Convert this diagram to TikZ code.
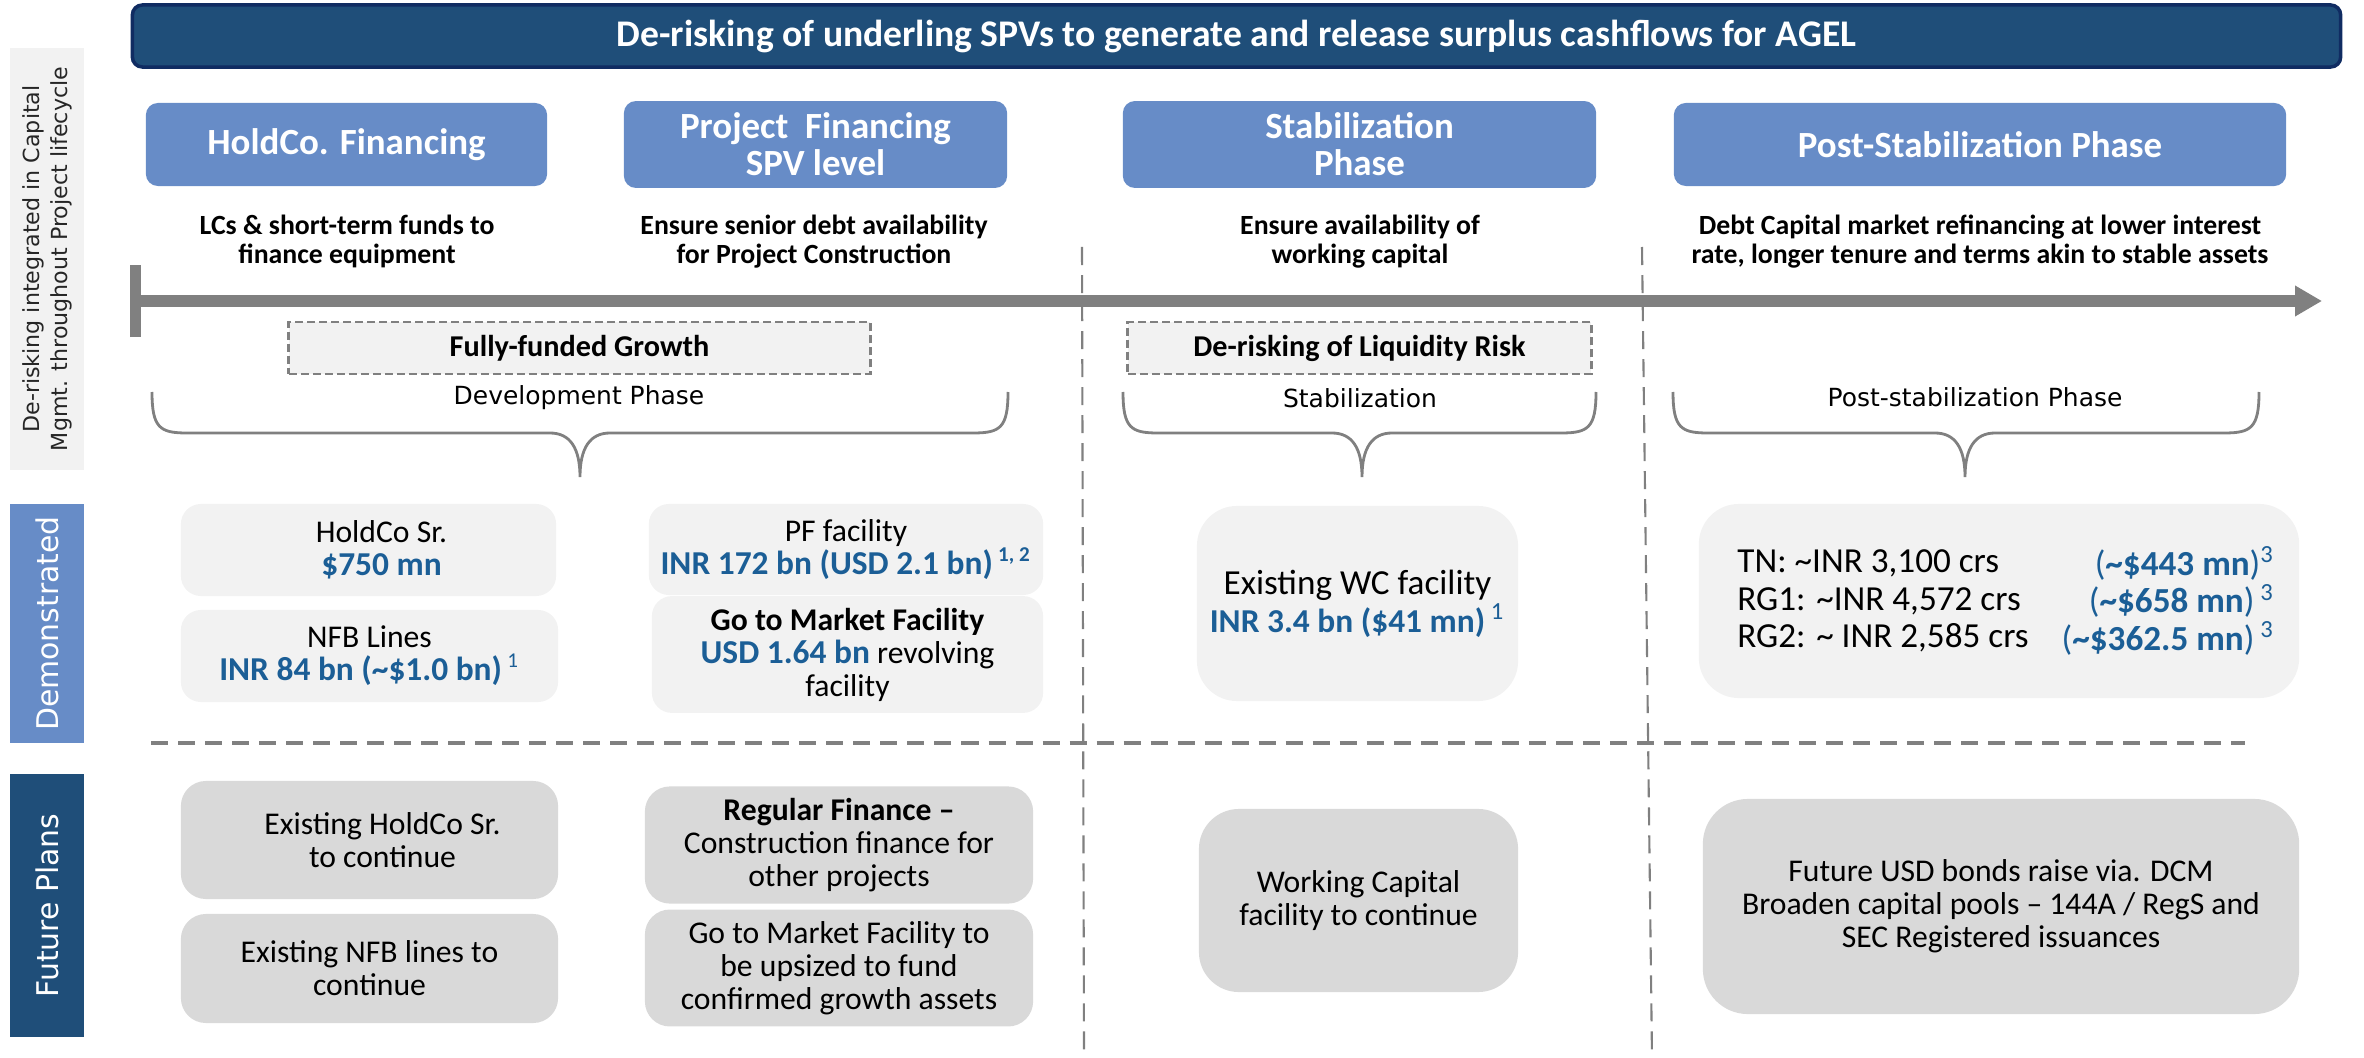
\documentclass[tikz,border=0pt]{standalone}
\usepackage{fontspec}
\setmainfont{Carlito}
\newfontfamily\dejavu{DejaVu Sans}
\usepackage{tikz}
\usetikzlibrary{arrows.meta}
\definecolor{navy}{RGB}{31,78,121}
\definecolor{navyline}{RGB}{16,44,98}
\definecolor{midblue}{RGB}{103,140,199}
\definecolor{numblue}{RGB}{27,94,150}
\definecolor{lite}{RGB}{242,242,242}
\definecolor{midgray}{RGB}{217,217,217}
\definecolor{rulegray}{RGB}{128,128,128}
\newcommand{\bluenum}[1]{{\fontsize{9.5}{9.4}\selectfont\bfseries\color{numblue}#1}}
\newcommand{\bluesup}[1]{\textcolor{numblue}{\textsuperscript{#1}}}

\begin{document}
\begin{tikzpicture}[x=0.01cm, y=-0.01cm, font=\fontsize{9}{9.4}\selectfont,
	titlebar/.style={fill=navy, draw=navyline, line width=1pt, rounded corners=0.1cm, text=white, font=\fontsize{10.7}{11}\selectfont\bfseries},
	phase/.style={fill=midblue, rounded corners=0.12cm, text=white, align=center, minimum height=0.83cm, font=\fontsize{10.5}{10.6}\selectfont\bfseries},
	desc/.style={align=center, font=\fontsize{7.9}{8.3}\selectfont\bfseries},
	sidelab/.style={rotate=90, align=center, minimum height=0.74cm, font=\dejavu\fontsize{8.5}{9}\selectfont},
	riskbox/.style={fill=lite, draw=rulegray, line width=0.8pt, dash pattern=on 0.08cm off 0.04cm, minimum height=0.52cm, font=\fontsize{8.6}{9}\selectfont\bfseries},
	phaselab/.style={font=\dejavu\fontsize{7.1}{8}\selectfont},
	brace/.style={draw=rulegray, line width=0.8pt},
	litebox/.style={fill=lite, rounded corners=0.2cm, align=center},
	darkbox/.style={fill=midgray, rounded corners=0.25cm, align=center},
	divider/.style={draw=rulegray, line width=0.6pt, dash pattern=on 0.18cm off 0.1cm},
	timeline/.style={draw=rulegray, line width=0.11cm, {Bar[width=0.72cm]}-{Triangle[length=0.27cm,width=0.29cm]}}]
	\useasboundingbox (0,0) rectangle (2364,1058);
	\node[titlebar, minimum width=22.07cm, minimum height=0.62cm] (title) at (1236.5,36) {De-risking of underling SPVs to generate and release surplus cashflows for AGEL};

	\node[sidelab, fill=lite, text=black!85, minimum width=4.22cm, font=\dejavu\fontsize{6.3}{8}\selectfont] (lifecycle) at (47,259) {De-risking integrated in Capital\\Mgmt. throughout Project lifecycle};
	\node[sidelab, fill=midblue, text=white, minimum width=2.39cm] (demo) at (47,623.5) {Demonstrated};
	\node[sidelab, fill=navy, text=white, minimum width=2.63cm] (future) at (47,905.5) {Future Plans};

	\node[phase, minimum width=4.01cm] (holdco) at (346.5,144.5) {HoldCo. Financing};
	\node[phase, minimum width=3.83cm] (projfin) at (815.5,144.5) {Project~ Financing\\SPV level};
	\node[phase, minimum width=4.73cm] (stab) at (1359.5,144.5) {Stabilization\\Phase};
	\node[phase, minimum width=6.12cm] (poststab) at (1980,144.5) {Post-Stabilization Phase};

	\node[desc] (holddesc) at (347,241.5) {LCs \& short-term funds to\\finance equipment};
	\node[desc] (projdesc) at (814,241.5) {Ensure senior debt availability\\for Project Construction};
	\node[desc] (stabdesc) at (1360,241.5) {Ensure availability of\\working capital};
	\node[desc] (postdesc) at (1980,241.5) {Debt Capital market refinancing at lower interest\\rate, longer tenure and terms akin to stable assets};

	\draw[divider] (1082,247) -- (1084,1058);
	\draw[divider] (1642,247) -- (1652,1058);
	\draw[divider, line width=0.9pt, dash pattern=on 0.17cm off 0.1cm] (151,743) -- (2245,743);

	\coordinate (tlstart) at (130,301);
	\coordinate (tlend) at (2322,301);
	\draw[timeline] (tlstart) -- (tlend);

	\node[riskbox, minimum width=5.81cm] (funded) at (579.5,348) {Fully-funded Growth};
	\node[riskbox, minimum width=4.63cm] (liquidity) at (1359.5,348) {De-risking of Liquidity Risk};

	\node[phaselab] (devlab) at (579,398) {Development Phase};
	\node[phaselab] (stablab) at (1360,398) {Stabilization};
	\node[phaselab] (postlab) at (1975,397) {Post-stabilization Phase};

	\foreach \xa/\xc/\xb in {152/580/1008, 1123/1362/1596, 1673/1965/2259}
	  \draw[brace] (\xa,392) .. controls (\xa,428) and (\xa+8,433) .. (\xa+35,433) -- (\xc-30,433)
	    .. controls (\xc-10,433) and (\xc,448) .. (\xc,477) .. controls (\xc,448) and (\xc+10,433) .. (\xc+30,433)
	    -- (\xb-35,433) .. controls (\xb-8,433) and (\xb,428) .. (\xb,392);

	\node[litebox, minimum width=3.75cm, minimum height=0.92cm] (holdsr) at (368.5,550) {\hspace*{0.26cm}HoldCo Sr.\\\hspace*{0.26cm}\bluenum{\$750 mn}};
	\node[litebox, minimum width=3.77cm, minimum height=0.92cm] (nfb) at (369.5,656) {NFB Lines\\\bluenum{INR 84 bn (\textasciitilde\$1.0 bn)}\,\bluesup{1}};
	\node[litebox, minimum width=3.94cm, minimum height=0.91cm] (pffac) at (846,549.5) {PF facility\\\bluenum{INR 172 bn (USD 2.1 bn)}\,\bluesup{\bfseries 1, 2}};
	\node[litebox, minimum width=3.91cm, minimum height=0.93cm] (gtm) at (847.5,654.5) {\textbf{Go to Market Facility}\\\bluenum{USD 1.64 bn} revolving\\facility};
	\node[litebox, rounded corners=0.4cm, minimum width=3.21cm, minimum height=1.95cm, font=\fontsize{10}{9.7}\selectfont] (wcfac) at (1357.5,603.5) {Existing WC facility\\\bluenum{INR 3.4 bn (\$41 mn)}\,\bluesup{1}};
	\node[litebox, rounded corners=0.4cm, minimum width=6cm, minimum height=1.94cm] (refin) at (1999,601) {};
	\node[anchor=west, align=left, font=\fontsize{10}{10.6}\selectfont] (refinleft) at (1725,601) {TN: \textasciitilde INR 3,100 crs\\RG1: \textasciitilde INR 4,572 crs\\RG2: \textasciitilde{} INR 2,585 crs};
	\node[anchor=east, align=right, text=numblue, font=\fontsize{10}{10.6}\selectfont] (refinright) at (2287,601) {(\textbf{\textasciitilde\$443 mn})\textsuperscript{3}\\(\textbf{\textasciitilde\$658 mn})\,\textsuperscript{3}\\(\textbf{\textasciitilde\$362.5 mn})\,\textsuperscript{3}};

	\node[darkbox, minimum width=3.77cm, minimum height=1.18cm] (holdnext) at (369.5,840) {\hspace*{0.26cm}Existing HoldCo Sr.\\\hspace*{0.26cm}to continue};
	\node[darkbox, minimum width=3.77cm, minimum height=1.09cm] (nfbnext) at (369.5,968.5) {Existing NFB lines to\\continue};
	\node[darkbox, minimum width=3.88cm, minimum height=1.10cm] (regular) at (839,845) {\textbf{Regular Finance –}\\Construction finance for\\other projects};
	\node[darkbox, minimum width=3.88cm, minimum height=1.10cm] (gtmnext) at (839,968) {Go to Market Facility to\\be upsized to fund\\confirmed growth assets};
	\node[darkbox, rounded corners=0.4cm, minimum width=3.19cm, minimum height=1.83cm] (wcnext) at (1358.5,900.5) {Working Capital\\facility to continue};
	\node[darkbox, rounded corners=0.45cm, minimum width=5.96cm, minimum height=2.15cm] (bonds) at (2001,906.5) {Future USD bonds raise via. DCM\\Broaden capital pools – 144A / RegS and\\SEC Registered issuances};
\end{tikzpicture}
\end{document}
